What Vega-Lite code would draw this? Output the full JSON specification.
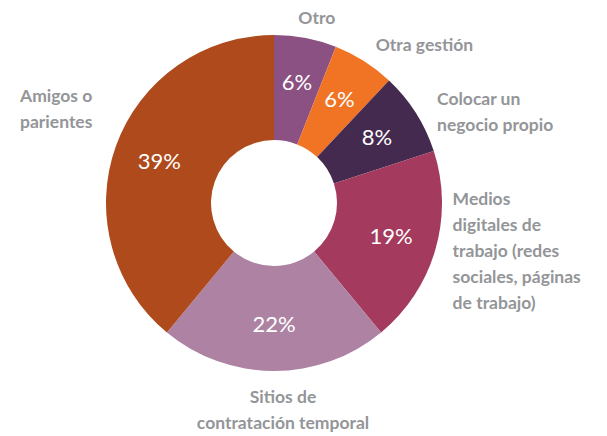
{
  "$schema": "https://vega.github.io/schema/vega-lite/v6.json",
  "width": 548,
  "height": 406,
  "autosize": {"type": "none"},
  "padding": {"left": 0, "top": 0, "right": 59, "bottom": 30},
  "background": "white",
  "view": {"stroke": null},
  "data": {
    "values": [
      {"idx": 1, "cat": "Otro", "pct": 6, "pctText": "6%", "label": "Otro"},
      {"idx": 2, "cat": "Otra gestión", "pct": 6, "pctText": "6%", "label": "Otra gestión"},
      {"idx": 3, "cat": "Colocar un negocio propio", "pct": 8, "pctText": "8%", "label": "Colocar un\nnegocio propio"},
      {"idx": 4, "cat": "Medios digitales de trabajo", "pct": 19, "pctText": "19%", "label": "Medios\ndigitales de\ntrabajo (redes\nsociales, páginas\nde trabajo)"},
      {"idx": 5, "cat": "Sitios de contratación temporal", "pct": 22, "pctText": "22%", "label": "Sitios de\ncontratación temporal"},
      {"idx": 6, "cat": "Amigos o parientes", "pct": 39, "pctText": "39%", "label": "Amigos o\nparientes"}
    ]
  },
  "encoding": {
    "theta": {"field": "pct", "type": "quantitative", "stack": true},
    "order": {"field": "idx", "type": "quantitative"}
  },
  "layer": [
    {
      "mark": {"type": "arc", "outerRadius": 168, "innerRadius": 63},
      "encoding": {
        "color": {
          "field": "cat",
          "type": "nominal",
          "legend": null,
          "scale": {
            "domain": ["Otro", "Otra gestión", "Colocar un negocio propio", "Medios digitales de trabajo", "Sitios de contratación temporal", "Amigos o parientes"],
            "range": ["#8B5183", "#F07424", "#452A50", "#A43A5D", "#AD82A2", "#AE4A1B"]
          }
        }
      }
    },
    {
      "mark": {"type": "text", "radius": 122, "font": "Lato", "fontSize": 22, "color": "white"},
      "encoding": {"text": {"field": "pctText"}}
    },
    {
      "mark": {"type": "text", "radius": 186, "font": "Lato", "fontWeight": "bold", "fontSize": 17.5, "color": "#939598", "lineBreak": "\n", "lineHeight": 26, "align": "center", "dx": 8, "dy": -1},
      "encoding": {"text": {"condition": {"test": "datum.cat === 'Otro'", "field": "label"}, "value": ""}}
    },
    {
      "mark": {"type": "text", "radius": 186, "font": "Lato", "fontWeight": "bold", "fontSize": 17.5, "color": "#939598", "lineBreak": "\n", "lineHeight": 26, "align": "left", "dx": 2, "dy": 0},
      "encoding": {"text": {"condition": {"test": "datum.cat === 'Otra gestión'", "field": "label"}, "value": ""}}
    },
    {
      "mark": {"type": "text", "radius": 186, "font": "Lato", "fontWeight": "bold", "fontSize": 17.5, "color": "#939598", "lineBreak": "\n", "lineHeight": 26, "align": "left", "dx": 6, "dy": -3},
      "encoding": {"text": {"condition": {"test": "datum.cat === 'Colocar un negocio propio'", "field": "label"}, "value": ""}}
    },
    {
      "mark": {"type": "text", "radius": 186, "font": "Lato", "fontWeight": "bold", "fontSize": 17.5, "color": "#939598", "lineBreak": "\n", "lineHeight": 26, "align": "left", "dx": 0, "dy": -55},
      "encoding": {"text": {"condition": {"test": "datum.cat === 'Medios digitales de trabajo'", "field": "label"}, "value": ""}}
    },
    {
      "mark": {"type": "text", "radius": 186, "font": "Lato", "fontWeight": "bold", "fontSize": 17.5, "color": "#939598", "lineBreak": "\n", "lineHeight": 26, "align": "center", "dx": 9, "dy": 9},
      "encoding": {"text": {"condition": {"test": "datum.cat === 'Sitios de contratación temporal'", "field": "label"}, "value": ""}}
    },
    {
      "mark": {"type": "text", "radius": 186, "font": "Lato", "fontWeight": "bold", "fontSize": 17.5, "color": "#939598", "lineBreak": "\n", "lineHeight": 26, "align": "left", "dx": -79, "dy": -43},
      "encoding": {"text": {"condition": {"test": "datum.cat === 'Amigos o parientes'", "field": "label"}, "value": ""}}
    }
  ]
}
